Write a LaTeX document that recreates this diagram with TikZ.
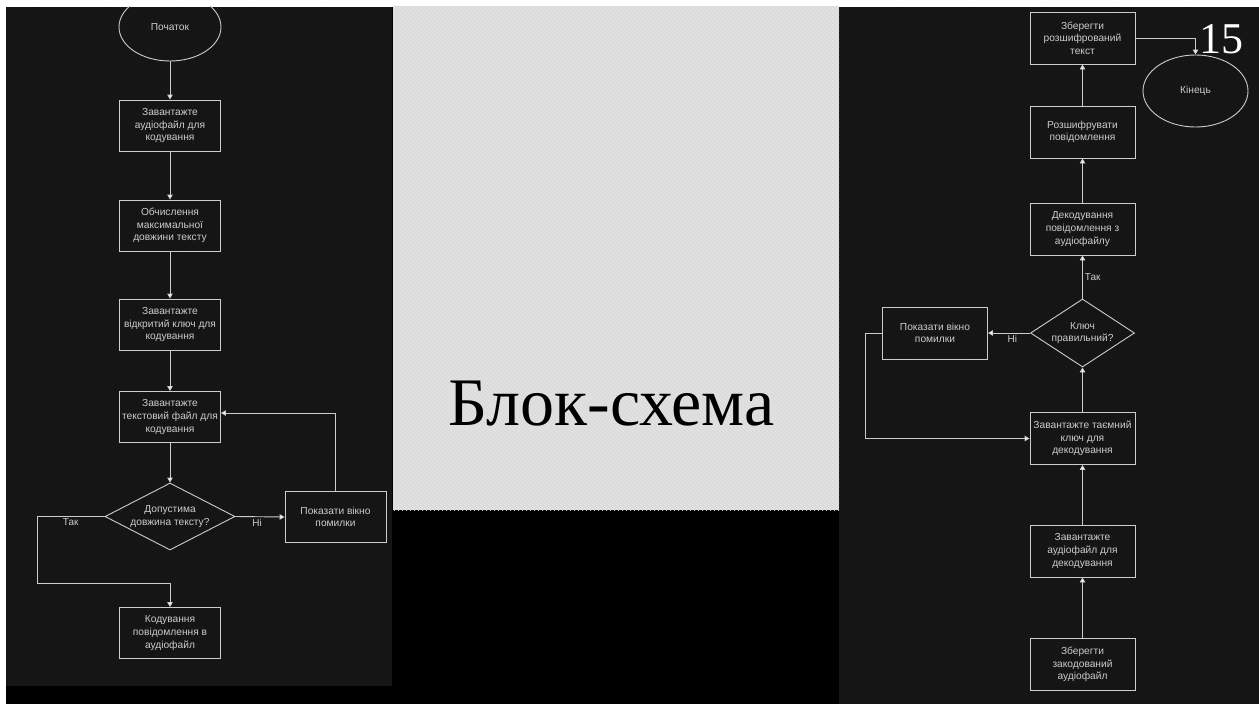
\documentclass[tikz,border=0pt]{standalone}
\usepackage{fontspec}
\setmainfont{Liberation Serif}
\newfontfamily\flowfont{Liberation Sans}
\usetikzlibrary{shapes.geometric,arrows.meta,patterns.meta}
\definecolor{paneldark}{HTML}{151515}
\definecolor{dotcol}{HTML}{303030}
\definecolor{lightpanel}{HTML}{DCDCDC}
\definecolor{stripecol}{HTML}{E6E6E6}
\definecolor{linecol}{HTML}{CDCDCD}
\definecolor{txtcol}{HTML}{CCCCCC}
\tikzdeclarepattern{
  name=gdots,
  type=uncolored,
  bounding box={(0pt,0pt) and (9pt,9pt)},
  tile size={(9pt,9pt)},
  code={\fill (4.5pt,4.5pt) circle (0.6pt);}
}
\tikzdeclarepattern{
  name=diagstripes,
  type=uncolored,
  bounding box={(-0.5pt,-0.5pt) and (4.5pt,4.5pt)},
  tile size={(4pt,4pt)},
  code={\draw[line width=0.5pt] (-0.5pt,4.5pt) -- (4.5pt,-0.5pt);}
}
\begin{document}
\begin{tikzpicture}[x=1pt,y=-1pt,
  flowtext/.style={text=txtcol, font=\flowfont\fontsize{10.2}{12.6}\selectfont, align=center},
  lbox/.style={flowtext, draw=linecol, line width=0.9pt, rectangle, minimum width=101pt, minimum height=51pt, inner sep=0pt},
  rbox/.style={lbox, minimum width=105pt, minimum height=52pt},
  term/.style={flowtext, draw=linecol, line width=0.9pt, ellipse, inner sep=0pt},
  decision/.style={flowtext, draw=linecol, line width=0.9pt, diamond, inner sep=0pt},
  arr/.style={draw=linecol, line width=0.9pt, -{Triangle[width=5.5pt,length=5pt,fill=white]}},
  lbl/.style={text=txtcol, font=\flowfont\fontsize{10}{11}\selectfont, inner sep=2pt}
]
\useasboundingbox (0,0) rectangle (1259,704);
% backgrounds
\fill[white] (0,0) rectangle (1259,704);
\fill[black] (6,7) rectangle (1259,704);
\fill[paneldark] (6,7) rectangle (392,686);
\fill[pattern=gdots, pattern color=dotcol] (6,7) rectangle (392,686);
\fill[paneldark] (839,7) rectangle (1259,704);
\fill[pattern=gdots, pattern color=dotcol] (839,7) rectangle (1259,704);
\fill[lightpanel] (393,6) rectangle (839,510);
\fill[pattern=diagstripes, pattern color=stripecol] (393,6) rectangle (839,510);

% title
\node[anchor=base, inner sep=0pt, text=black, font=\fontsize{68}{68}\selectfont] (title) at (611.5,425) {Блок-схема};

% ---------- left flowchart ----------
\node[term, minimum width=102pt, minimum height=68pt] (start) at (170,27) {Початок};
\node[lbox] (b1) at (170,125.5) {Завантажте\\аудіофайл для\\кодування};
\node[lbox] (b2) at (170,225.5) {Обчислення\\максимальної\\довжини тексту};
\node[lbox] (b3) at (170,324.5) {Завантажте\\відкритий ключ для\\кодування};
\node[lbox] (b4) at (170,417) {Завантажте\\текстовий файл для\\кодування};
\node[decision, minimum width=130pt, minimum height=67pt, aspect=1.94] (dec) at (170,516.5) {Допустима\\довжина тексту?};
\node[lbox] (err) at (335.5,517) {Показати вікно\\помилки};
\node[lbox] (b5) at (170,633) {Кодування\\повідомлення в\\аудіофайл};
\coordinate (tb) at (37,583);

\draw[arr] (start) -- (b1);
\draw[arr] (b1) -- (b2);
\draw[arr] (b2) -- (b3);
\draw[arr] (b3) -- (b4);
\draw[arr] (b4) -- (dec);
\draw[arr] (dec.east) -- node[lbl, pos=0.44, below] {Ні} (err.west);
\draw[arr] (err.north) |- ([yshift=4pt]b4.east);
\draw[arr] (dec.west) -| node[lbl, pos=0.25, below] {Так} (tb) -| (b5.north);

% ---------- right flowchart ----------
\node[rbox] (sav) at (1082.5,38) {Зберегти\\розшифрований\\текст};
\node[term, minimum width=105pt, minimum height=72pt] (fin) at (1195.5,91) {Кінець};
\node[rbox] (ros) at (1082.5,132) {Розшифрувати\\повідомлення};
\node[rbox] (dek) at (1082.5,229) {Декодування\\повідомлення з\\аудіофайлу};
\node[decision, minimum width=104pt, minimum height=68pt, aspect=1.53] (kd) at (1082.5,333) {Ключ\\правильний?};
\node[rbox] (err2) at (935,333) {Показати вікно\\помилки};
\node[rbox] (key) at (1082.5,438.5) {Завантажте таємний\\ключ для\\декодування};
\node[rbox] (aud) at (1082.5,551) {Завантажте\\аудіофайл для\\декодування};
\node[rbox] (zak) at (1082.5,664.5) {Зберегти\\закодований\\аудіофайл};
\coordinate (c2) at (865,438.5);

\draw[arr] (zak) -- (aud);
\draw[arr] (aud) -- (key);
\draw[arr] (key) -- (kd);
\draw[arr] (kd) -- node[lbl, right] {Так} (dek);
\draw[arr] (dek) -- (ros);
\draw[arr] (ros) -- (sav);
\draw[arr] (sav.east) -| (fin.north);
\draw[arr] (kd.west) -- node[lbl, pos=0.42, below] {Ні} (err2.east);
\draw[arr] (err2.west) -| (c2) -- (key.west);

% page number
\node[anchor=base, inner sep=0pt, text=white, font=\fontsize{44}{44}\selectfont] (pnum) at (1221,53) {15};

% top strip
\fill[white] (0,0) rectangle (1259,6);
\end{tikzpicture}
\end{document}
